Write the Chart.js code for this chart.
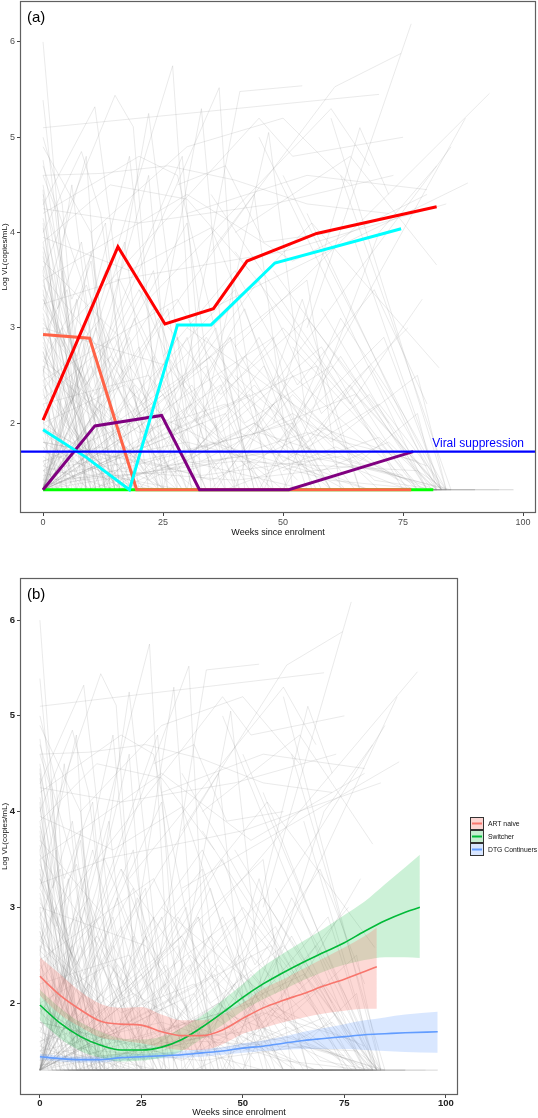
<!DOCTYPE html>
<html>
<head>
<meta charset="utf-8">
<script src="https://cdn.jsdelivr.net/npm/chart.js@4.4.1/dist/chart.umd.min.js"></script>
<style>
  body { margin: 0; background: #fff; width: 538px; height: 1118px; position: relative; overflow: hidden; }
  canvas { position: absolute; left: 0; }
  #chartA { top: -10px; }
  #chartB { top: 560px; }
</style>
</head>
<body>
<canvas id="chartA" width="538" height="555"></canvas>
<canvas id="chartB" width="538" height="558"></canvas>
<script>
// ---- data ----
const weekTicks = [0, 25, 50, 75, 100];
const logTicks = [2, 3, 4, 5, 6];
const suppressionLevel = 1.7;
const groupNames = ['ART naive', 'Switcher', 'DTG Continuers'];

// highlighted patients, panel (a)
const redWeeks = [0, 15.6, 25.4, 35.5, 42.5, 57, 82];
const redVL = [2.03, 3.85, 3.04, 3.20, 3.70, 3.99, 4.27];
const cyanWeeks = [0, 9, 18, 28, 35, 48.3, 74.6];
const cyanVL = [1.93, 1.64, 1.30, 3.03, 3.03, 3.68, 4.04];
const salmonWeeks = [0, 9.7, 19.5, 76.7];
const salmonVL = [2.93, 2.89, 1.30, 1.30];
const purpleWeeks = [0, 10.8, 24.7, 32.6, 51.2, 77.1];
const purpleVL = [1.30, 1.97, 2.08, 1.30, 1.30, 1.70];
const greenWeeks = [0, 81.3];
const greenVL = [1.30, 1.30];

// smoothed group curves, panel (b)
const naiveWeeks = [0, 5, 10, 15, 20, 25, 30, 35, 40, 45, 50, 55, 60, 65, 70, 75, 80, 83];
const naiveFit = [2.28, 2.08, 1.93, 1.81, 1.78, 1.77, 1.70, 1.66, 1.66, 1.72, 1.84, 1.95, 2.03, 2.10, 2.18, 2.25, 2.33, 2.38];
const naiveHi = [2.48, 2.30, 2.12, 1.99, 1.95, 1.96, 1.88, 1.82, 1.82, 1.88, 2.00, 2.15, 2.25, 2.36, 2.47, 2.58, 2.70, 2.79];
const naiveLo = [2.08, 1.88, 1.75, 1.64, 1.61, 1.58, 1.54, 1.51, 1.51, 1.57, 1.68, 1.74, 1.80, 1.85, 1.89, 1.92, 1.94, 1.94];

const switchWeeks = [0, 5, 10, 15, 20, 25, 30, 35, 40, 45, 50, 55, 60, 65, 70, 75, 80, 85, 90, 93.6];
const switchFit = [1.98, 1.79, 1.65, 1.56, 1.51, 1.51, 1.54, 1.62, 1.75, 1.90, 2.06, 2.20, 2.32, 2.43, 2.53, 2.63, 2.75, 2.86, 2.95, 3.00];
const switchHi = [2.14, 1.95, 1.80, 1.70, 1.63, 1.62, 1.65, 1.74, 1.87, 2.03, 2.20, 2.38, 2.52, 2.65, 2.78, 2.92, 3.06, 3.24, 3.42, 3.55];
const switchLo = [1.82, 1.63, 1.50, 1.43, 1.39, 1.40, 1.43, 1.50, 1.63, 1.77, 1.92, 2.04, 2.14, 2.24, 2.33, 2.40, 2.45, 2.48, 2.48, 2.47];

const dtgWeeks = [0, 5, 10, 15, 20, 25, 30, 35, 40, 45, 50, 55, 60, 65, 70, 75, 80, 85, 90, 98];
const dtgFit = [1.44, 1.42, 1.41, 1.41, 1.43, 1.44, 1.45, 1.46, 1.48, 1.50, 1.53, 1.55, 1.58, 1.61, 1.63, 1.65, 1.67, 1.68, 1.69, 1.70];
const dtgHi = [1.47, 1.45, 1.44, 1.44, 1.46, 1.47, 1.48, 1.50, 1.52, 1.54, 1.58, 1.61, 1.65, 1.70, 1.74, 1.78, 1.82, 1.85, 1.88, 1.91];
const dtgLo = [1.41, 1.39, 1.38, 1.38, 1.40, 1.41, 1.42, 1.43, 1.44, 1.46, 1.48, 1.50, 1.51, 1.52, 1.52, 1.52, 1.51, 1.50, 1.49, 1.48];

// individual patient trajectories (week, log VL pairs), shared by both panels
const patientTracks = [
  [0,6.0, 8,1.3, 40,1.3], [0,5.39, 5,3.1, 11,1.3, 52,1.3], [0,5.1, 70,5.45],
  [0,4.76, 6,2.9, 13,1.3, 60,1.3], [0,4.29, 10.8,5.32, 17,3.0, 22,1.3, 45,1.3],
  [0,3.6, 15,5.44, 18.8,5.11, 25,1.3, 62,1.3], [0,4.6, 3,4.2, 9,1.3, 30,1.6, 55,1.3],
  [0,4.45, 4,2.0, 17,1.3, 70,1.3], [0,4.2, 20,4.8, 28,4.6, 44,1.3, 78,1.3],
  [25,1.3, 41,5.48, 54,5.54], [0,1.3, 27,5.75, 33,1.3, 70,1.3], [0,1.3, 36.7,5.52, 42,1.3, 80,1.3],
  [55,3.0, 76.7,6.19], [35,3.8, 60.8,5.53, 74.6,5.88], [40,2.8, 93,5.46], [45,1.3, 88,5.2],
  [35,3.2, 88.5,4.52], [48,2.4, 85,4.9], [0,4.6, 12,4.62, 26,4.7, 40,4.55, 55,4.3, 72,4.2],
  [0,4.25, 20,4.1, 48,4.3, 73,4.6], [10,4.0, 30,4.9, 50,5.2, 64,4.5], [5,3.0, 45,5.2, 52,4.8, 75,5.0],
  [22,3.3, 60,5.3, 68,4.7], [50,1.3, 70,4.0, 82,4.7], [48,2.0, 66,5.1, 72,4.4],
  [0,3.9, 14,4.5, 30,4.35, 43,3.6], [0,4.0, 8,4.85, 12,4.2, 20,1.3, 50,1.3], [0,3.2, 9,4.8, 14,1.3, 44,1.3],
  [0,4.1, 7,1.3, 36,1.3, 52,2.5, 78,1.3], [0,3.5, 30,4.4, 52,3.7, 80,4.4], [18,1.3, 33,5.3, 40,1.3, 84,1.3],
  [0,1.3, 18,4.8, 26,1.3, 72,1.3], [0,1.3, 14,3.2, 22,4.6, 28,1.3, 65,1.3], [30,4.2, 55,4.6, 80,4.45],
  [15,3.5, 50,3.8, 84,4.3], [0,1.3, 44,4.4, 52,1.3, 83,1.3], [45,5.0, 80,1.3], [50,4.6, 83,1.3],
  [60,5.2, 84,1.3], [62,4.6, 85,1.3], [35,4.4, 76,1.3], [55,4.2, 82,1.3], [0,2.5, 6,4.5, 14,1.3, 60,1.3],
  [28,4.5, 38,4.7, 46,3.9, 60,4.0], [40,4.0, 64,4.8, 82,3.66], [20,2.2, 56,4.1, 82.5,2.58],
  [0,4.9, 10,4.0, 16,1.3, 38,1.3], [0,3.95, 18,3.6, 35,4.05, 45,2.8, 58,1.3], [8,1.3, 22,5.25, 30,2.1, 48,1.3],
  [30,1.3, 47,5.05, 55,2.0, 70,1.3],
  [0,3.8, 9,1.3, 48,1.3], [0,3.7, 16,2.9, 24,1.3, 58,1.3], [0,3.6, 5,1.3, 44,1.3, 72,1.3],
  [0,3.5, 11,1.3, 31,2.2, 41,1.3], [0,3.4, 6,1.3, 62,1.3], [0,3.3, 18,1.3, 82,1.3],
  [0,3.2, 8,2.5, 15,1.3, 54,1.3], [0,3.1, 13,1.3, 35,1.8, 68,1.3], [0,3.0, 4,1.3, 27,1.3],
  [0,2.95, 21,1.3, 74,1.3], [0,2.85, 7,1.9, 12,1.3, 46,1.3], [0,2.75, 10,1.3, 38,1.3, 61,1.75, 80,1.3],
  [0,2.7, 25,1.3, 77,1.3], [0,2.6, 3,1.3, 33,1.3], [0,2.5, 14,1.3, 57,1.3], [0,2.4, 9,1.7, 19,1.3, 64,1.3],
  [0,2.35, 5,1.3, 85,1.3], [0,2.3, 16,1.3, 42,1.3], [0,2.2, 6,1.5, 23,1.3, 70,1.3], [0,2.1, 11,1.3, 50,1.3],
  [0,2.05, 2,1.3, 36,1.3], [0,2.0, 20,1.3, 79,1.3], [0,1.95, 8,1.3, 53,1.3], [0,1.9, 13,1.45, 29,1.3],
  [0,1.85, 4,1.3, 63,1.3], [0,1.8, 17,1.3, 40,1.3], [0,1.75, 7,1.3, 75,1.3], [0,1.7, 24,1.3, 58,1.3],
  [0,1.65, 10,1.3, 47,1.3], [0,1.6, 3,1.3, 81,1.3], [0,1.55, 15,1.3, 66,1.3], [0,1.5, 6,1.3, 39,1.3],
  [0,1.3, 10,3.8, 18,1.3, 50,1.3], [0,1.3, 20,2.8, 30,1.3, 75,1.3], [0,1.3, 12,2.2, 25,1.3, 55,1.3],
  [0,1.3, 30,4.1, 38,1.3, 82,1.3], [0,1.3, 8,2.6, 16,1.3, 44,2.0, 60,1.3], [0,1.3, 23,3.6, 31,1.3, 58,1.3],
  [0,1.3, 40,3.4, 47,1.3, 77,1.3], [0,1.3, 5,1.9, 15,1.3, 35,1.3], [0,1.3, 16,1.8, 28,1.3, 68,1.3],
  [0,1.3, 25,2.3, 34,1.3, 62,1.3], [0,1.3, 48,2.9, 56,1.3, 80,1.3], [0,1.3, 38,2.1, 46,1.3, 73,1.3],
  [0,1.3, 11,3.0, 20,1.8, 32,1.3, 90,1.3], [0,1.3, 55,3.5, 62,1.3, 82,1.3], [0,1.3, 29,4.8, 35,1.3, 98,1.3],
  [40,3.8, 78,1.3], [58,3.2, 80,1.3], [48,3.6, 81,1.3], [52,2.8, 79,1.3], [65,3.9, 83,1.3], [30,3.0, 77,1.3],
  [0,2.8, 12,1.6, 24,3.1, 36,1.5, 48,2.2, 60,1.3], [0,3.3, 9,2.4, 20,3.4, 32,2.0, 45,2.9, 58,1.6],
  [0,1.5, 30,1.8, 60,1.4, 80,1.3], [0,1.45, 20,1.6, 45,1.9, 70,1.5, 84,1.3],
  [0,2.6, 15,2.0, 35,2.7, 50,1.6, 68,2.3, 82,1.3], [5,1.3, 18,2.6, 27,1.9, 42,3.2, 55,1.3],
  [10,2.9, 26,1.4, 44,2.4, 63,1.3], [0,2.2, 22,2.5, 40,1.3, 54,3.3, 66,1.3],
  [0,1.9, 14,2.7, 33,1.6, 52,2.1, 74,1.4], [0,3.0, 26,2.6, 43,1.5, 71,2.9, 83,1.3],
  [15,1.3, 34,2.9, 49,1.8, 62,2.7, 80,1.3], [0,1.4, 9,2.3, 21,1.5, 37,2.5, 56,1.7, 76,1.3],
  [20,3.4, 37,2.3, 55,3.1, 72,2.0], [0,2.45, 28,3.3, 42,2.0, 60,2.6, 83,1.3],
  [0,1.6, 12,1.75, 35,1.4, 58,1.95, 80,1.55], [0,1.8, 25,1.55, 50,1.7, 75,1.45],
  [0,1.35, 40,1.6, 78,1.5, 84,1.3], [45,1.9, 65,2.3, 83,1.3], [50,1.5, 70,1.85, 82,1.3],
  [60,1.3, 98,1.3], [70,1.3, 95,1.3], [50,1.3, 90,1.3], [0,1.3, 60,1.3], [0,1.3, 85,1.3],
  [0,2.9, 5,3.4, 10,2.1, 18,2.9, 26,1.3], [0,3.45, 7,2.7, 13,3.6, 21,2.3, 30,1.3],
  [0,2.55, 4,3.0, 8,1.6, 19,2.4, 28,1.3], [32,2.6, 45,3.5, 58,2.1, 76,3.0], [12,1.3, 24,2.0, 36,3.0, 44,1.3],
  [0,4.05, 3,3.2, 8,3.9, 15,1.8, 24,1.3], [0,3.75, 6,2.2, 11,3.3, 17,1.3, 42,1.3],
  [0,2.65, 9,3.45, 18,2.2, 29,1.3, 56,1.3], [35,1.3, 52,2.3, 66,1.6, 78,2.1, 82,1.3],
  [25,2.7, 40,3.6, 53,2.4, 69,3.4, 80,2.2], [0,1.3, 33,2.0, 50,1.3, 64,2.4, 78,1.3],
  [0,3.55, 22,2.1, 39,2.9, 57,1.3], [0,1.3, 7,3.3, 13,1.3, 23,2.7, 34,1.3],
  [0,2.15, 9,1.3, 45,1.3], [0,2.9, 14,1.3, 52,1.3], [0,3.15, 10,1.3, 71,1.3], [0,3.65, 12,1.3, 34,1.3],
  [0,4.35, 9,1.3, 58,1.3], [0,4.15, 13,1.3, 76,1.3], [0,3.35, 19,1.3, 48,1.3], [0,2.45, 7,1.3, 69,1.3],
  [0,1.95, 26,1.3, 83,1.3], [0,2.75, 4,2.1, 16,1.3, 37,1.3], [0,3.85, 15,1.3, 65,1.3], [0,4.5, 11,1.3, 43,1.3],
  [0,1.3, 9,2.9, 15,1.3, 61,1.3], [0,1.3, 17,3.9, 24,1.3, 67,1.3], [0,1.3, 21,2.0, 29,1.3, 82,1.3],
  [0,1.3, 26,3.2, 32,1.3, 74,1.3], [0,1.3, 34,2.6, 41,1.3, 79,1.3], [0,1.3, 13,1.6, 37,2.4, 45,1.3, 71,1.3],
  [0,1.3, 43,2.3, 51,1.3, 84,1.3], [0,1.3, 52,2.0, 60,1.3, 81,1.3], [0,1.3, 57,2.6, 66,1.3, 83,1.3],
  [0,1.3, 6,2.4, 12,1.3, 28,2.9, 36,1.3], [0,2.25, 15,2.9, 25,1.3, 45,1.3],
  [0,1.5, 18,2.2, 30,1.6, 46,2.6, 60,1.3], [0,1.7, 10,2.6, 22,1.4, 41,1.9, 63,1.3],
  [0,2.0, 17,2.4, 31,1.7, 49,2.5, 69,1.4, 82,1.3], [0,2.65, 20,1.9, 38,2.2, 53,1.4],
  [3,1.3, 14,2.5, 24,1.6, 39,2.9, 48,1.3], [7,1.3, 19,3.1, 33,1.4, 50,2.3, 65,1.3],
  [0,1.6, 23,2.1, 47,1.5, 70,2.2, 84,1.3], [0,1.4, 30,1.5, 55,1.9, 78,1.6, 83,1.3],
  [0,1.8, 33,1.45, 62,1.65, 82,1.3], [0,1.35, 15,1.5, 40,1.4, 65,1.55, 85,1.3],
  [10,1.3, 26,2.7, 37,1.9, 58,2.8, 75,1.3], [20,1.3, 42,2.7, 60,1.8, 78,2.5, 84,1.3],
  [0,3.05, 11,2.3, 23,3.2, 31,1.3], [0,3.9, 4,2.8, 10,3.7, 16,1.3], [0,4.4, 6,3.3, 13,4.1, 19,1.3],
  [0,4.7, 8,3.5, 15,1.3], [0,5.0, 4,4.3, 9,1.3, 35,1.3], [0,3.25, 16,3.5, 27,2.3, 38,1.3],
  [0,2.35, 12,3.1, 21,2.0, 30,2.9, 40,1.3], [30,1.6, 44,2.0, 58,1.5, 72,1.8, 82,1.3],
  [40,2.5, 55,1.8, 68,2.6, 83,1.3], [46,1.3, 62,3.1, 75,2.1, 84,1.3], [36,2.2, 50,3.0, 64,2.2, 79,3.3],
  [0,1.3, 47,1.7, 68,1.3, 90,1.3], [0,1.55, 9,1.9, 20,1.3, 54,1.3], [0,2.55, 18,1.7, 31,2.4, 43,1.3, 70,1.3],
  [0,1.3, 4,3.6, 10,1.3, 47,1.3]
];

// ---- helpers ----
Chart.defaults.font.family = '"Liberation Sans", Arial, sans-serif';

function track(flat) {
  const pts = [];
  for (let i = 0; i < flat.length; i += 2) pts.push({ x: flat[i], y: flat[i + 1] });
  return pts;
}
function pairs(xs, ys) {
  return xs.map((x, i) => ({ x: x, y: ys[i] }));
}
function greyDatasets() {
  return patientTracks.map(t => ({
    data: track(t),
    borderColor: 'rgba(140,140,140,0.3)',
    borderWidth: 0.6,
    pointRadius: 0,
    tension: 0,
    fill: false,
    order: 10
  }));
}
function line(xs, ys, color, width, order, smooth) {
  return {
    data: pairs(xs, ys),
    borderColor: color,
    borderWidth: width,
    pointRadius: 0,
    fill: false,
    order: order,
    cubicInterpolationMode: smooth ? 'monotone' : 'default',
    tension: smooth ? 0.4 : 0
  };
}

function axes(xMin, xMax, yMin, yMax, tickFont, tickColor, xHeight, xPad) {
  return {
    x: {
      type: 'linear', min: xMin, max: xMax,
      afterBuildTicks: s => { s.ticks = weekTicks.map(v => ({ value: v })); },
      afterFit: s => { s.height = xHeight; },
      grid: { display: true, drawOnChartArea: false, drawTicks: true, tickLength: 3, color: '#444' },
      border: { display: false },
      ticks: { color: tickColor, font: tickFont, padding: xPad, maxRotation: 0 },
      title: { display: true, text: 'Weeks since enrolment', color: '#111', font: { size: 9 }, padding: 0 }
    },
    y: {
      type: 'linear', min: yMin, max: yMax,
      afterBuildTicks: s => { s.ticks = logTicks.map(v => ({ value: v })); },
      afterFit: s => { s.width = 20; },
      grid: { display: true, drawOnChartArea: false, drawTicks: true, tickLength: 3, color: '#444' },
      border: { display: false },
      ticks: { color: tickColor, font: tickFont, padding: 2 },
      title: { display: true, text: 'Log VL(copies/mL)', color: '#111', font: { size: 8 }, padding: 0 }
    }
  };
}

const panelDecor = {
  id: 'panelDecor',
  afterDatasetsDraw(chart, args, opts) {
    const { ctx, chartArea: a } = chart;
    ctx.save();
    ctx.strokeStyle = '#606060';
    ctx.lineWidth = 1.2;
    ctx.strokeRect(a.left + 0.5, a.top + 0.5, a.right - a.left - 1, a.bottom - a.top - 1);
    ctx.fillStyle = '#000';
    ctx.font = '15px "Liberation Sans", Arial, sans-serif';
    ctx.textBaseline = 'alphabetic';
    ctx.textAlign = 'left';
    ctx.fillText(opts.label, a.left + 7, a.top + 21);
    if (opts.suppressionText) {
      const y = chart.scales.y.getPixelForValue(suppressionLevel);
      ctx.fillStyle = '#0000FF';
      ctx.font = '12px "Liberation Sans", Arial, sans-serif';
      ctx.textAlign = 'right';
      ctx.fillText(opts.suppressionText, a.right - 12, y - 5);
    }
    if (opts.legend) {
      const lx = a.right + 12, ly = 257;
      opts.legend.forEach((it, i) => {
        const y = ly + i * 13;
        ctx.fillStyle = it.fill;
        ctx.fillRect(lx, y, 14, 13);
        ctx.strokeStyle = '#333';
        ctx.lineWidth = 1;
        ctx.strokeRect(lx + 0.5, y + 0.5, 13, 12);
        ctx.strokeStyle = it.color;
        ctx.lineWidth = 2;
        ctx.beginPath();
        ctx.moveTo(lx + 2, y + 6.5);
        ctx.lineTo(lx + 12, y + 6.5);
        ctx.stroke();
        ctx.fillStyle = '#111';
        ctx.font = '6.8px "Liberation Sans", Arial, sans-serif';
        ctx.textAlign = 'left';
        ctx.textBaseline = 'middle';
        ctx.fillText(it.name, lx + 18, y + 7);
      });
    }
    ctx.restore();
  }
};

// ---- panel (a) ----
const dataA = greyDatasets().concat([
  line(greenWeeks, greenVL, '#00FF00', 3, 6),
  line(salmonWeeks, salmonVL, '#FF6347', 3, 5),
  line(purpleWeeks, purpleVL, '#800080', 3, 4),
  line(cyanWeeks, cyanVL, '#00FFFF', 3, 3),
  line(redWeeks, redVL, '#FF0000', 3, 2),
  line([-10, 110], [suppressionLevel, suppressionLevel], '#0000FF', 2.2, 1)
]);

new Chart(document.getElementById('chartA'), {
  type: 'line',
  data: { datasets: dataA },
  options: {
    responsive: false, animation: false, events: [],
    layout: { padding: { left: 0, top: 11, right: 2, bottom: 7 } },
    scales: axes(-4.8, 102.7, 1.056, 6.43, { size: 9 }, '#4d4d4d', 25, 1),
    plugins: {
      legend: { display: false }, tooltip: { enabled: false },
      panelDecor: { label: '(a)', suppressionText: 'Viral suppression' }
    }
  },
  plugins: [panelDecor]
});

// ---- panel (b) ----
const dataB = greyDatasets();
function band(xs, lo, hi, fillColor) {
  const idx = dataB.length;
  dataB.push({ data: pairs(xs, lo), borderWidth: 0, pointRadius: 0, fill: false, order: 5,
    cubicInterpolationMode: 'monotone', borderColor: 'rgba(0,0,0,0)' });
  dataB.push({ data: pairs(xs, hi), borderWidth: 0, pointRadius: 0, fill: { target: idx }, order: 5,
    cubicInterpolationMode: 'monotone', borderColor: 'rgba(0,0,0,0)', backgroundColor: fillColor });
}
band(naiveWeeks, naiveLo, naiveHi, 'rgba(248,118,109,0.28)');
band(switchWeeks, switchLo, switchHi, 'rgba(0,186,56,0.2)');
band(dtgWeeks, dtgLo, dtgHi, 'rgba(97,156,255,0.24)');
dataB.push(line(naiveWeeks, naiveFit, '#F8766D', 1.6, 2, true));
dataB.push(line(switchWeeks, switchFit, '#00BA38', 1.6, 2, true));
dataB.push(line(dtgWeeks, dtgFit, '#619CFF', 1.6, 2, true));

new Chart(document.getElementById('chartB'), {
  type: 'line',
  data: { datasets: dataB },
  options: {
    responsive: false, animation: false, events: [],
    layout: { padding: { left: 0, top: 18, right: 80, bottom: 0 } },
    scales: axes(-4.9, 103, 1.04, 6.44, { size: 9.5, weight: 'bold' }, '#222', 23, 0),
    plugins: {
      legend: { display: false }, tooltip: { enabled: false },
      panelDecor: {
        label: '(b)',
        legend: [
          { name: groupNames[0], color: '#F8766D', fill: '#FCD6D3' },
          { name: groupNames[1], color: '#00BA38', fill: '#C6EDD1' },
          { name: groupNames[2], color: '#619CFF', fill: '#D8E6FF' }
        ]
      }
    }
  },
  plugins: [panelDecor]
});
</script>
</body>
</html>
